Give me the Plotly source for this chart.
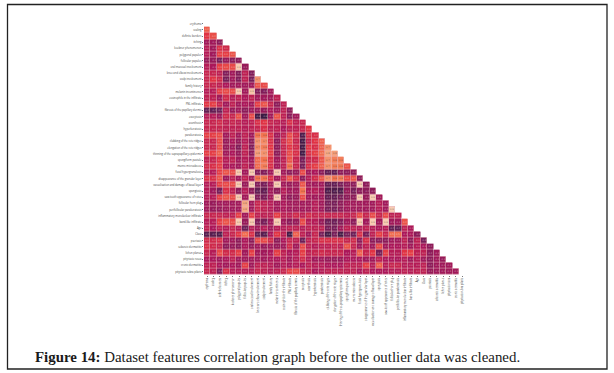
import plotly.graph_objects as go

features = ["erythema","scaling","definite borders","itching","koebner phenomenon","polygonal papules",
"follicular papules","oral mucosal involvement","knee and elbow involvement","scalp involvement","family history",
"melanin incontinence","eosinophils in the infiltrate","PNL infiltrate","fibrosis of the papillary dermis","exocytosis",
"acanthosis","hyperkeratosis","parakeratosis","clubbing of the rete ridges","elongation of the rete ridges",
"thinning of the suprapapillary epidermis","spongiform pustule","munro microabcess","focal hypergranulosis",
"disappearance of the granular layer","vacuolisation and damage of basal layer","spongiosis","saw-tooth appearance of retes",
"follicular horn plug","perifollicular parakeratosis","inflammatory monoluclear infiltrate","band-like infiltrate","Age","Class",
"psoriasis","seboreic dermatitis","lichen planus","pityriasis rosea","cronic dermatitis","pityriasis rubra pilaris"]

r_scaling = [.44]
r_borders = [.25,.38]
r_itching = [-.1,-.1,-.2]
r_koebner = [0,-.1,.2,.15]
r_polygonal = [0,-.1,.3,.3,.4]
r_follicular = [-.15,-.15,-.3,-.15,-.2,-.2]
r_oral = [0,-.05,.3,.35,.35,.92,-.15]
r_knee = [.1,.1,.05,-.25,-.1,-.25,.05,-.25]
r_scalp = [.1,.25,.15,-.3,-.1,-.25,.05,-.3,.7]
r_family = [.1,.1,.05,-.05,-.1,-.1,-.1,-.1,.4,.35]
r_melanin = [0,0,.3,.35,.35,.92,-.1,.9,-.25,-.25,-.1]
r_eosin = [.05,.05,-.1,.15,0,.05,-.05,.05,-.1,-.1,-.1,.05]
r_pnl = [.25,.3,.1,-.1,.05,-.1,-.05,-.1,.3,.4,.1,-.2,.05]
r_fibrosis = [-.4,-.4,-.35,.05,-.15,-.1,-.2,-.1,-.15,-.15,-.05,-.1,.05,-.2]
r_exocytosis = [0,0,-.1,.15,.1,.38,-.1,.35,-.55,-.6,-.1,.4,.05,-.2,-.1]
r_acanthosis = [.1,.1,.15,.05,.1,.05,0,.05,.2,.25,.1,.05,0,.2,.05,.1]
r_hyperk = [.1,.1,.1,.05,.05,.05,0,.05,.1,.2,.05,.05,-.05,.05,.05,.1,.25]
r_parak = [.3,.3,.35,-.1,.05,-.1,.05,-.1,.55,.55,.2,-.1,.05,.35,.15,-.5,.2,.2]
r_clubbing = [.1,.1,.35,-.15,-.05,-.15,0,-.2,.7,.65,.2,-.2,.15,.35,.1,-.55,.1,.25,.45]
r_elong = [.1,.1,.35,-.15,-.1,-.25,.05,-.25,.65,.6,.25,-.2,.1,.25,.15,-.55,.25,.2,.45,.7]
r_thinning = [.3,.3,.45,-.1,-.05,-.15,.05,-.2,.75,.7,.3,-.2,.1,.35,.2,-.55,.2,.3,.5,.8,.75]
r_spongiform = [.05,.1,.25,0,.05,-.1,0,-.1,.5,.55,.2,-.1,.05,.4,.1,-.3,.1,.15,.4,.7,.6,.6]
r_munro = [.15,.2,.3,-.05,-.05,-.1,.05,-.1,.5,.6,.2,-.1,.05,.55,.1,-.3,.2,.3,.45,.7,.6,.6,.4]
r_focal = [0,0,.3,.4,.35,.92,-.1,.92,-.25,-.25,-.1,.92,-.1,-.2,-.15,.35,-.1,-.05,-.2,-.4,-.4,-.2,-.2,-.2]
r_disapp = [.2,.2,.4,-.1,.05,-.1,.05,-.1,.55,.55,.2,-.1,.1,.4,.15,-.2,0,.15,.4,.7,.55,.6,.35,.4,-.2]
r_vacuol = [0,0,.3,.35,.35,.92,-.15,.92,-.25,-.3,-.1,.92,-.1,-.15,-.1,.4,-.1,-.1,-.1,-.4,-.4,-.3,-.2,-.2,.92,-.2]
r_spongiosis = [0,-.1,-.3,.2,.05,-.2,0,-.2,-.4,-.4,-.1,-.2,0,-.1,-.1,.55,-.05,0,-.1,-.5,-.5,-.5,-.15,-.3,-.2,-.2,-.2]
r_sawtooth = [0,0,.3,.4,.35,.92,-.1,.92,-.25,-.3,-.1,.92,-.1,-.2,-.15,.35,-.1,-.1,-.1,-.4,-.4,-.3,-.2,-.2,.92,-.15,.92,-.1]
r_horn = [-.1,-.15,-.1,-.1,-.1,-.1,.8,-.1,.1,.05,0,-.1,-.05,-.1,-.1,-.1,-.1,0,-.1,-.3,-.3,-.2,-.1,-.1,-.1,-.1,-.1,0,-.1]
r_perifoll = [-.1,-.15,-.15,-.1,-.1,-.1,.8,-.1,.1,.05,0,-.1,-.05,-.1,-.1,-.1,-.1,0,-.1,-.3,-.3,-.2,-.1,-.1,-.1,-.1,-.1,0,-.1,.92]
r_inflam = [.1,.1,.1,.05,.05,.3,-.1,.3,.05,.05,.05,.3,.05,.05,.15,.05,.15,.1,.1,.1,.1,.1,.05,.1,.35,.1,.35,.1,.35,.05,.05]
r_band = [0,0,.3,.4,.35,.92,-.15,.92,-.25,-.3,-.1,.92,-.1,-.2,-.15,.35,0,0,-.15,-.35,-.35,-.25,-.1,-.2,.92,-.1,.92,-.1,.92,-.1,-.1,.4]
r_age = [.05,-.05,.05,0,.1,0,-.35,0,-.1,0,-.1,0,0,.05,.05,0,.05,.05,.05,-.3,-.3,-.1,.05,.05,0,.05,0,-.05,0,-.4,-.4,.05,-.05]
r_class = [-.45,-.45,-.5,.05,.1,.25,.5,.2,-.4,-.45,-.05,.25,.05,-.55,.45,.05,-.1,.1,-.3,-.55,-.3,-.55,-.3,-.35,.2,-.3,.05,.3,.1,.5,.5,-.05,-.05,-.2]
r_psoriasis = [.15,.15,.2,-.1,-.1,-.2,-.05,-.2,.35,.35,.15,-.2,-.05,.1,.05,-.35,.05,.1,.2,.2,.2,.2,.1,.15,-.2,.2,-.2,-.2,-.2,-.1,-.1,.05,-.2,.05,-.3]
r_seb = [.2,.15,.1,-.2,-.15,-.2,-.05,-.15,-.1,-.15,-.1,-.15,-.1,.15,-.1,.35,.05,0,.05,.05,.1,.05,.4,.1,-.1,.05,-.1,.35,-.1,-.05,-.05,0,-.1,0,-.05,-.2]
r_lichen = [.1,0,.35,.15,.15,.3,-.1,.3,-.1,-.1,-.05,.3,.05,-.05,0,.3,.05,.1,.15,.1,.1,.1,-.05,0,.45,.1,.25,-.3,.3,0,0,.25,.3,.05,.05,-.2,-.1]
r_rosea = [-.05,-.05,-.1,-.05,.05,-.1,-.1,-.1,-.1,-.1,-.05,-.05,0,-.1,0,.15,0,-.1,-.1,-.15,-.15,-.15,-.05,-.05,-.05,-.1,-.1,.05,-.05,-.05,-.05,0,-.1,0,-.1,-.2,-.1,-.15]
r_cronic = [.05,.05,-.05,-.1,-.05,-.1,.3,-.1,.05,.05,0,-.1,0,-.05,0,-.05,.05,0,0,-.05,-.05,-.05,.05,.05,.05,.3,0,.45,0,.1,.1,0,0,0,.05,-.2,-.1,-.1,-.1]
r_prp = [.1,.05,-.25,.2,0,0,0,0,.1,.05,0,.05,.1,.3,.35,.1,.05,-.05,0,.05,.05,.05,.05,.05,-.05,.05,-.05,-.05,-.05,0,0,.05,0,.05,.05,-.15,-.1,-.1,-.1,-.1]

rows = [[], r_scaling, r_borders, r_itching, r_koebner, r_polygonal, r_follicular, r_oral, r_knee, r_scalp, r_family,
        r_melanin, r_eosin, r_pnl, r_fibrosis, r_exocytosis, r_acanthosis, r_hyperk, r_parak, r_clubbing, r_elong,
        r_thinning, r_spongiform, r_munro, r_focal, r_disapp, r_vacuol, r_spongiosis, r_sawtooth, r_horn, r_perifoll,
        r_inflam, r_band, r_age, r_class, r_psoriasis, r_seb, r_lichen, r_rosea, r_cronic, r_prp]

n = len(features)
z = [list(r) + [None] * (n - len(r)) for r in rows]
LIGHT_CUT = 0.55
z_dark = [[v if v is not None and v < LIGHT_CUT else None for v in row] for row in z]
z_light = [[v if v is not None and v >= LIGHT_CUT else None for v in row] for row in z]

rocket = [[0, "#03051a"], [1/12, "#35193e"], [3/12, "#701f57"], [5/12, "#ad1759"],
          [7/12, "#e13342"], [9/12, "#f37651"], [11/12, "#f6b48f"], [1, "#faebdd"]]

W, H = 614, 373
x0, x1 = 204, 204 + 6.375 * n
y0, y1 = 20.6, 20.6 + 6.2 * n

def layer(values, text_colour):
    return go.Heatmap(z=values, x=features, y=features, colorscale=rocket, zmin=-0.78, zmax=1.0, showscale=False,
                      xgap=0.5, ygap=0.5, hoverongaps=False, texttemplate="%{z:.1f}",
                      textfont=dict(size=2.4, family="DejaVu Sans", color=text_colour))

# Flat pale layer under the cells: softens the one-pixel gaps into the reference's faint grid.
backing = go.Heatmap(z=z, x=features, y=features, colorscale=[[0, "#e8bcc6"], [1, "#e8bcc6"]], showscale=False,
                     hoverinfo="skip")

fig = go.Figure([backing, layer(z_dark, "rgba(255,255,255,0.55)"), layer(z_light, "rgba(60,40,40,0.6)")])

axis_font = dict(size=2.6, family="Open Sans", color="#444444")
fig.update_layout(
    width=W, height=H, margin=dict(l=0, r=0, t=0, b=0),
    paper_bgcolor="white", plot_bgcolor="white",
    xaxis=dict(domain=[x0 / W, x1 / W], anchor="y", tickangle=-90, tickfont=axis_font, tickmode="linear",
               showgrid=False, zeroline=False, ticks="outside", ticklen=1, tickwidth=0.3, tickcolor="#777777",
               automargin=False, type="category", categoryorder="array", categoryarray=features),
    yaxis=dict(domain=[1 - y1 / H, 1 - y0 / H], anchor="x", autorange="reversed", tickfont=axis_font, tickmode="linear",
               showgrid=False, zeroline=False, ticks="outside", ticklen=1, tickwidth=0.3, tickcolor="#777777",
               automargin=False, type="category", categoryorder="array", categoryarray=features),
    shapes=[dict(type="rect", xref="paper", yref="paper", x0=7.5 / W, x1=607 / W, y0=1 - 369 / H, y1=1 - 4.5 / H,
                 line=dict(color="#222222", width=1.3), fillcolor="rgba(0,0,0,0)", layer="below")],
    annotations=[dict(text="<b>Figure 14:</b> Dataset features correlation graph before the outlier data was cleaned.",
                      xref="paper", yref="paper", x=33 / W, y=1 - 357 / H, xanchor="left", yanchor="middle",
                      showarrow=False, font=dict(family="Liberation Serif", size=14.9, color="#1a1a1a"))],
)
fig.write_html("out.html", config={"displayModeBar": False},
               post_script="document.body.style.margin='0';document.documentElement.style.overflow='hidden';")
